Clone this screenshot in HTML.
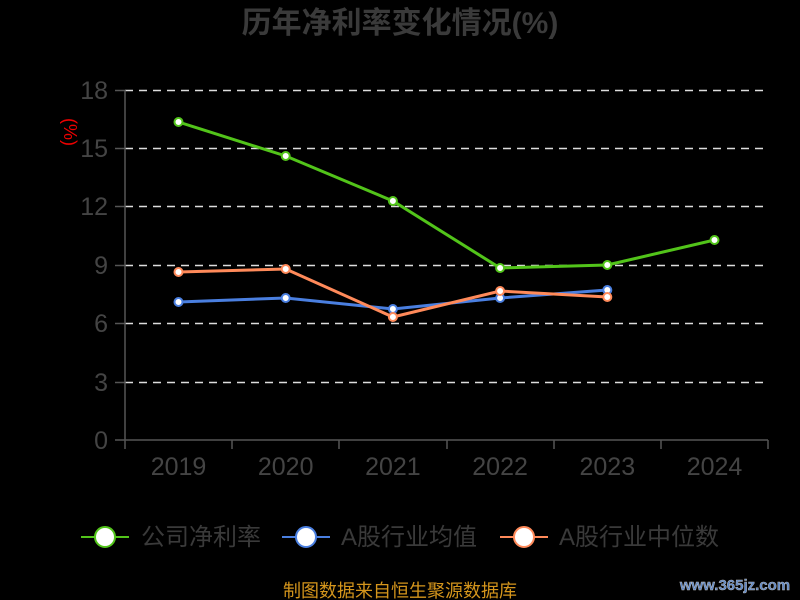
<!DOCTYPE html>
<html><head><meta charset="utf-8"><style>
html,body{margin:0;padding:0;background:#000;width:800px;height:600px;overflow:hidden}
text{font-family:"Liberation Sans","Noto Sans CJK SC",sans-serif}
</style></head><body>
<svg width="800" height="600" xmlns="http://www.w3.org/2000/svg">
<rect width="800" height="600" fill="#000"/>
<text x="400" y="33" text-anchor="middle" font-size="30" font-weight="bold" fill="#3a3a3a">历年净利率变化情况(%)</text>
<text x="70" y="126" text-anchor="middle" font-size="18" fill="#e00" transform="rotate(90 64 126)">(%)</text>
<g stroke="#ddd" stroke-width="1.5" stroke-dasharray="8,6">
<line x1="125" y1="90.5" x2="768" y2="90.5"/>
<line x1="125" y1="148.5" x2="768" y2="148.5"/>
<line x1="125" y1="206.5" x2="768" y2="206.5"/>
<line x1="125" y1="265.5" x2="768" y2="265.5"/>
<line x1="125" y1="323.5" x2="768" y2="323.5"/>
<line x1="125" y1="382.5" x2="768" y2="382.5"/>
</g>
<g stroke="#555" stroke-width="1.5">
<line x1="125" y1="90" x2="125" y2="440"/>
<line x1="125" y1="440" x2="768" y2="440"/>
<line x1="115" y1="90.5" x2="125" y2="90.5"/><line x1="115" y1="148.5" x2="125" y2="148.5"/>
<line x1="115" y1="206.5" x2="125" y2="206.5"/><line x1="115" y1="265.5" x2="125" y2="265.5"/>
<line x1="115" y1="323.5" x2="125" y2="323.5"/><line x1="115" y1="382.5" x2="125" y2="382.5"/>
<line x1="115" y1="440" x2="125" y2="440"/>
<line x1="125" y1="440" x2="125" y2="449"/><line x1="232" y1="440" x2="232" y2="449"/>
<line x1="339" y1="440" x2="339" y2="449"/><line x1="447" y1="440" x2="447" y2="449"/>
<line x1="554" y1="440" x2="554" y2="449"/><line x1="661" y1="440" x2="661" y2="449"/>
<line x1="768" y1="440" x2="768" y2="449"/>
</g>
<g font-size="25" fill="#444" text-anchor="end">
<text x="108" y="99">18</text><text x="108" y="157">15</text><text x="108" y="215">12</text>
<text x="108" y="274">9</text><text x="108" y="332">6</text><text x="108" y="391">3</text><text x="108" y="449">0</text>
</g>
<g font-size="25" fill="#444" text-anchor="middle">
<text x="178.5" y="475">2019</text><text x="285.7" y="475">2020</text><text x="392.9" y="475">2021</text>
<text x="500.1" y="475">2022</text><text x="607.3" y="475">2023</text><text x="714.5" y="475">2024</text>
</g>
<g fill="none" stroke-width="3">
<polyline stroke="#52c41a" points="178.5,122 285.7,156 392.9,201 500.1,268 607.3,265 714.5,240"/>
<polyline stroke="#4a7fe0" points="178.5,302 285.7,298 392.9,309 500.1,298 607.3,290"/>
<polyline stroke="#ff8a5a" points="178.5,272 285.7,269 392.9,317 500.1,291 607.3,297"/>
</g>
<g fill="#fff" stroke-width="2">
<g stroke="#52c41a"><circle cx="178.5" cy="122" r="4"/><circle cx="285.7" cy="156" r="4"/><circle cx="392.9" cy="201" r="4"/><circle cx="500.1" cy="268" r="4"/><circle cx="607.3" cy="265" r="4"/><circle cx="714.5" cy="240" r="4"/></g>
<g stroke="#4a7fe0"><circle cx="178.5" cy="302" r="4"/><circle cx="285.7" cy="298" r="4"/><circle cx="392.9" cy="309" r="4"/><circle cx="500.1" cy="298" r="4"/><circle cx="607.3" cy="290" r="4"/></g>
<g stroke="#ff8a5a"><circle cx="178.5" cy="272" r="4"/><circle cx="285.7" cy="269" r="4"/><circle cx="392.9" cy="317" r="4"/><circle cx="500.1" cy="291" r="4"/><circle cx="607.3" cy="297" r="4"/></g>
</g>
<g stroke-width="2">
<line x1="81" y1="537" x2="129" y2="537" stroke="#52c41a"/><circle cx="105" cy="537" r="10" fill="#fff" stroke="#52c41a"/>
<line x1="282" y1="537" x2="330" y2="537" stroke="#4a7fe0"/><circle cx="306" cy="537" r="10" fill="#fff" stroke="#4a7fe0"/>
<line x1="500" y1="537" x2="548" y2="537" stroke="#ff8a5a"/><circle cx="524" cy="537" r="10" fill="#fff" stroke="#ff8a5a"/>
</g>
<g font-size="24" fill="#3a3a3a">
<text x="141" y="545">公司净利率</text><text x="341" y="545">A股行业均值</text><text x="559" y="545">A股行业中位数</text>
</g>
<text x="400" y="597" text-anchor="middle" font-size="18" fill="#d4951c">制图数据来自恒生聚源数据库</text>
<text x="735" y="590" text-anchor="middle" font-size="15" font-weight="bold" fill="#5a86c8" stroke="#bbb" stroke-width="0.5">www.365jz.com</text>
</svg>
</body></html>
